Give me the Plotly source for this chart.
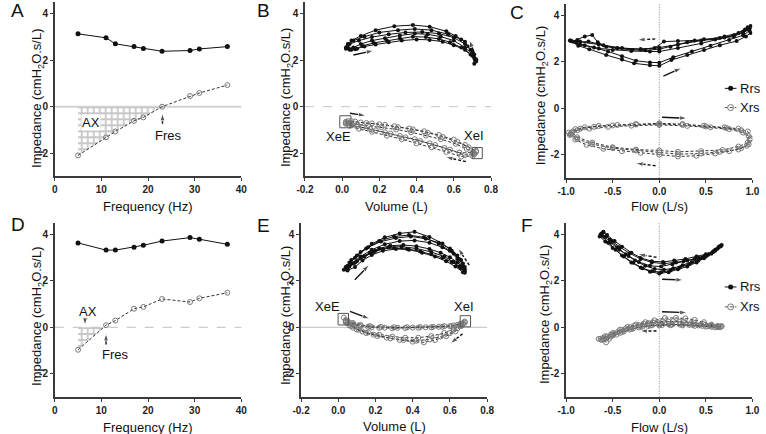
import plotly.graph_objects as go

FONT = "Liberation Sans, Arial, Helvetica, sans-serif"
W, H = 766, 434

# ---------------- Panels A / D : impedance vs frequency ----------------
freq = [5, 11, 13, 17, 19, 23, 29, 31, 37]
rrs_A = [3.14, 2.97, 2.71, 2.59, 2.51, 2.39, 2.42, 2.49, 2.59]
xrs_A = [-2.10, -1.32, -1.07, -0.61, -0.46, 0.00, 0.46, 0.59, 0.93]
fres_A = 23.0
rrs_D = [3.64, 3.33, 3.33, 3.45, 3.54, 3.72, 3.87, 3.80, 3.58]
xrs_D = [-0.97, 0.09, 0.29, 0.80, 0.88, 1.22, 1.09, 1.25, 1.49]
fres_D = 10.5

# ---------------- Panel B : impedance vs volume (L) ----------------
B_rrs = [(0.03, 2.55), (0.05, 2.45), (0.08, 2.50), (0.12, 2.60), (0.18, 2.68), (0.25, 2.78), (0.32, 2.85),
         (0.40, 2.90), (0.47, 2.88), (0.54, 2.80), (0.60, 2.65), (0.66, 2.45), (0.70, 2.20), (0.72, 1.95),
         (0.71, 2.10), (0.69, 2.45), (0.66, 2.80), (0.61, 3.05), (0.56, 3.25), (0.47, 3.45), (0.38, 3.52),
         (0.28, 3.47), (0.18, 3.30), (0.10, 3.05), (0.05, 2.85), (0.03, 2.70), (0.02, 2.55),
         (0.04, 2.45), (0.07, 2.48), (0.11, 2.62), (0.17, 2.75), (0.24, 2.85), (0.31, 2.95), (0.38, 3.02),
         (0.45, 3.00), (0.52, 2.92), (0.58, 2.78), (0.64, 2.55), (0.69, 2.25), (0.72, 2.00),
         (0.71, 2.25), (0.68, 2.60), (0.64, 2.90), (0.57, 3.12), (0.48, 3.30), (0.39, 3.35), (0.30, 3.30),
         (0.20, 3.20), (0.12, 3.02), (0.06, 2.85), (0.03, 2.65),
         (0.03, 2.52), (0.06, 2.55), (0.10, 2.70), (0.16, 2.85), (0.23, 2.95), (0.31, 3.07), (0.39, 3.15),
         (0.46, 3.12), (0.53, 3.02), (0.60, 2.85), (0.66, 2.55), (0.70, 2.25), (0.71, 1.85),
         (0.72, 2.05), (0.70, 2.40), (0.66, 2.70), (0.60, 2.98), (0.52, 3.15), (0.43, 3.22), (0.34, 3.20),
         (0.25, 3.12), (0.16, 3.00), (0.09, 2.85), (0.04, 2.70), (0.02, 2.50)]
B_xrs = [(0.02, -0.65), (0.05, -0.62), (0.10, -0.68), (0.16, -0.72), (0.23, -0.78), (0.30, -0.88),
         (0.38, -0.98), (0.46, -1.12), (0.54, -1.30), (0.62, -1.52), (0.68, -1.75), (0.72, -1.95),
         (0.71, -2.05), (0.66, -2.08), (0.58, -1.85), (0.50, -1.65), (0.42, -1.48), (0.34, -1.32),
         (0.26, -1.16), (0.18, -1.02), (0.11, -0.90), (0.05, -0.80), (0.02, -0.70),
         (0.04, -0.72), (0.08, -0.75), (0.14, -0.80), (0.21, -0.88), (0.29, -0.98), (0.37, -1.10),
         (0.45, -1.24), (0.53, -1.40), (0.61, -1.60), (0.67, -1.82), (0.71, -2.00),
         (0.70, -2.12), (0.64, -2.15), (0.56, -1.95), (0.48, -1.75), (0.40, -1.58), (0.32, -1.40),
         (0.24, -1.25), (0.16, -1.08), (0.09, -0.95), (0.04, -0.82), (0.02, -0.74),
         (0.03, -0.62), (0.07, -0.64), (0.13, -0.70), (0.20, -0.76), (0.28, -0.84), (0.36, -0.94),
         (0.44, -1.06), (0.52, -1.22), (0.60, -1.42), (0.66, -1.65), (0.72, -1.90),
         (0.70, -1.98), (0.63, -1.98), (0.55, -1.78), (0.47, -1.58), (0.39, -1.40), (0.31, -1.26),
         (0.23, -1.10), (0.15, -0.96), (0.08, -0.85), (0.03, -0.72)]
B_box_E = (0.017, -0.65)
B_box_I = (0.726, -2.00)

# ---------------- Panel C : impedance vs flow (L/s) ----------------
C_rrs = [(-0.95, 2.90), (-0.87, 2.70), (-0.75, 2.55), (-0.57, 2.30), (-0.40, 2.10), (-0.27, 1.94),
         (-0.10, 1.86), (0.00, 1.83), (0.13, 2.08), (0.30, 2.30), (0.48, 2.52), (0.65, 2.72), (0.83, 2.90),
         (0.93, 3.10), (0.98, 3.25),
         (0.97, 3.45), (0.90, 3.30), (0.80, 3.09), (0.65, 3.03), (0.48, 2.98), (0.30, 2.85), (0.12, 2.65),
         (0.00, 2.55), (-0.15, 2.50), (-0.29, 2.52), (-0.45, 2.58), (-0.57, 2.66), (-0.66, 2.85),
         (-0.72, 3.16), (-0.80, 3.10), (-0.88, 2.95), (-0.93, 2.88),
         (-0.85, 2.75), (-0.70, 2.62), (-0.55, 2.45), (-0.40, 2.25), (-0.25, 2.05), (-0.10, 1.98),
         (0.00, 1.97), (0.15, 2.20), (0.35, 2.45), (0.55, 2.70), (0.75, 2.95), (0.90, 3.15), (0.97, 3.35),
         (0.98, 3.55), (0.92, 3.40), (0.80, 3.15), (0.60, 2.97), (0.38, 2.92), (0.20, 2.90), (0.05, 2.88),
         (-0.05, 2.60), (-0.20, 2.55), (-0.40, 2.60), (-0.60, 2.72), (-0.76, 2.88), (-0.90, 2.85),
         (-0.96, 2.92),
         (-0.90, 2.85), (-0.80, 2.72), (-0.65, 2.58), (-0.50, 2.52), (-0.30, 2.47), (-0.10, 2.45),
         (0.00, 2.45), (0.20, 2.60), (0.45, 2.80), (0.70, 3.05), (0.90, 3.25), (0.96, 3.40),
         (0.95, 3.50), (0.85, 3.25), (0.70, 3.10), (0.45, 2.92), (0.20, 2.75), (0.00, 2.62),
         (-0.20, 2.55), (-0.45, 2.60), (-0.65, 2.75), (-0.85, 2.88), (-0.95, 2.93)]
C_xrs = [(-0.97, -1.05), (-0.90, -0.90), (-0.80, -0.82), (-0.65, -0.76), (-0.45, -0.72), (-0.25, -0.68),
         (0.00, -0.65), (0.25, -0.68), (0.48, -0.75), (0.70, -0.82), (0.85, -0.88), (0.95, -1.00),
         (0.98, -1.30),
         (0.96, -1.55), (0.88, -1.72), (0.75, -1.85), (0.60, -1.95), (0.40, -2.05), (0.20, -2.08),
         (0.00, -2.00), (-0.20, -1.92), (-0.40, -1.85), (-0.60, -1.75), (-0.78, -1.58), (-0.90, -1.35),
         (-0.96, -1.15),
         (-0.95, -1.10), (-0.88, -0.95), (-0.75, -0.88), (-0.55, -0.80), (-0.30, -0.75), (0.00, -0.72),
         (0.30, -0.76), (0.55, -0.82), (0.75, -0.90), (0.90, -1.05), (0.97, -1.35),
         (0.94, -1.62), (0.85, -1.78), (0.65, -1.88), (0.45, -1.95), (0.20, -1.98), (0.00, -1.90),
         (-0.25, -1.82), (-0.50, -1.72), (-0.72, -1.55), (-0.88, -1.32), (-0.95, -1.12),
         (-0.93, -1.00), (-0.85, -0.88), (-0.70, -0.80), (-0.50, -0.74), (-0.25, -0.70), (0.00, -0.68),
         (0.25, -0.72), (0.50, -0.78), (0.72, -0.85), (0.88, -0.95), (0.96, -1.20),
         (0.95, -1.48), (0.85, -1.65), (0.68, -1.80), (0.45, -1.85), (0.20, -1.88), (0.00, -1.82),
         (-0.25, -1.78), (-0.50, -1.68), (-0.72, -1.48), (-0.88, -1.25), (-0.94, -1.05)]

# ---------------- Panel E : impedance vs volume (L) ----------------
E_rrs = [(0.03, 2.48), (0.06, 2.62), (0.10, 2.85), (0.14, 3.05), (0.19, 3.25), (0.24, 3.38), (0.30, 3.42),
         (0.37, 3.38), (0.44, 3.28), (0.50, 3.15), (0.56, 3.00), (0.61, 2.82), (0.65, 2.62), (0.68, 2.42),
         (0.67, 2.65), (0.65, 2.95), (0.61, 3.30), (0.56, 3.62), (0.49, 3.90), (0.41, 4.12), (0.33, 4.05),
         (0.25, 3.88), (0.18, 3.60), (0.12, 3.25), (0.07, 2.90), (0.04, 2.60),
         (0.04, 2.55), (0.08, 2.75), (0.12, 3.00), (0.17, 3.22), (0.22, 3.40), (0.28, 3.52), (0.35, 3.55),
         (0.42, 3.50), (0.49, 3.38), (0.55, 3.22), (0.60, 3.02), (0.64, 2.80), (0.68, 2.50),
         (0.67, 2.75), (0.64, 3.10), (0.60, 3.40), (0.54, 3.65), (0.47, 3.82), (0.39, 3.92), (0.31, 3.85),
         (0.23, 3.70), (0.16, 3.45), (0.10, 3.10), (0.06, 2.80), (0.04, 2.55),
         (0.05, 2.45), (0.09, 2.60), (0.13, 2.88), (0.18, 3.12), (0.24, 3.30), (0.31, 3.38), (0.38, 3.35),
         (0.45, 3.22), (0.52, 3.05), (0.58, 2.85), (0.63, 2.62), (0.67, 2.38),
         (0.68, 2.60), (0.66, 2.90), (0.62, 3.18), (0.56, 3.45), (0.49, 3.65), (0.41, 3.75), (0.33, 3.72),
         (0.25, 3.58), (0.18, 3.35), (0.12, 3.05), (0.07, 2.75), (0.04, 2.50),
         (0.05, 2.55), (0.09, 2.78), (0.14, 3.05), (0.20, 3.30), (0.27, 3.45), (0.34, 3.48), (0.42, 3.40),
         (0.50, 3.25), (0.57, 3.05), (0.62, 2.82), (0.66, 2.55), (0.68, 2.35),
         (0.67, 2.55), (0.64, 2.95), (0.60, 3.30), (0.54, 3.60), (0.46, 3.88), (0.38, 3.98), (0.30, 3.92),
         (0.22, 3.72), (0.15, 3.40), (0.09, 3.00), (0.05, 2.65)]
E_xrs = [(0.03, 0.42), (0.05, 0.28), (0.08, 0.18), (0.12, 0.10), (0.17, 0.05), (0.23, 0.02), (0.30, 0.00),
         (0.37, 0.00), (0.44, 0.01), (0.51, 0.02), (0.57, 0.05), (0.62, 0.08), (0.66, 0.15), (0.68, 0.25),
         (0.67, 0.15), (0.64, -0.05), (0.60, -0.25), (0.55, -0.40), (0.49, -0.52), (0.42, -0.58),
         (0.35, -0.55), (0.28, -0.48), (0.21, -0.38), (0.15, -0.25), (0.10, -0.10), (0.06, 0.08), (0.04, 0.25),
         (0.04, 0.30), (0.07, 0.18), (0.11, 0.08), (0.16, 0.02), (0.22, -0.02), (0.29, -0.04), (0.36, -0.03),
         (0.43, -0.02), (0.50, 0.00), (0.56, 0.02), (0.61, 0.05), (0.65, 0.12), (0.68, 0.20),
         (0.66, 0.05), (0.63, -0.18), (0.58, -0.38), (0.52, -0.55), (0.46, -0.65), (0.40, -0.62),
         (0.33, -0.55), (0.26, -0.45), (0.19, -0.32), (0.13, -0.18), (0.08, -0.02), (0.05, 0.18),
         (0.05, 0.22), (0.08, 0.12), (0.12, 0.05), (0.18, 0.00), (0.25, -0.02), (0.32, -0.02), (0.40, -0.01),
         (0.47, 0.00), (0.54, 0.02), (0.60, 0.05), (0.64, 0.10), (0.67, 0.18),
         (0.66, 0.10), (0.62, -0.08), (0.57, -0.25), (0.50, -0.38), (0.43, -0.45), (0.36, -0.45),
         (0.29, -0.40), (0.22, -0.32), (0.16, -0.22), (0.11, -0.10), (0.07, 0.05), (0.04, 0.22)]
E_box_E = (0.027, 0.35)
E_box_I = (0.683, 0.26)

# ---------------- Panel F : impedance vs flow (L/s) ----------------
F_rrs = [(-0.62, 3.95), (-0.55, 3.65), (-0.47, 3.35), (-0.38, 3.05), (-0.28, 2.78), (-0.18, 2.55),
         (-0.08, 2.42), (0.02, 2.38), (0.12, 2.45), (0.22, 2.58), (0.32, 2.72), (0.42, 2.88), (0.50, 3.05),
         (0.58, 3.25), (0.64, 3.45), (0.67, 3.55),
         (0.66, 3.50), (0.60, 3.30), (0.52, 3.12), (0.42, 3.00), (0.30, 2.88), (0.18, 2.80), (0.05, 2.75),
         (-0.08, 2.80), (-0.20, 2.95), (-0.32, 3.20), (-0.42, 3.45), (-0.50, 3.70), (-0.57, 3.92),
         (-0.62, 4.05),
         (-0.60, 4.10), (-0.53, 3.78), (-0.45, 3.45), (-0.36, 3.15), (-0.26, 2.88), (-0.15, 2.65),
         (-0.05, 2.52), (0.05, 2.48), (0.15, 2.55), (0.25, 2.68), (0.35, 2.82), (0.45, 2.98), (0.53, 3.15),
         (0.60, 3.35), (0.65, 3.50),
         (0.63, 3.42), (0.56, 3.20), (0.48, 3.05), (0.38, 2.95), (0.26, 2.85), (0.14, 2.72), (0.02, 2.62),
         (-0.10, 2.65), (-0.22, 2.82), (-0.33, 3.08), (-0.43, 3.35), (-0.52, 3.65), (-0.59, 3.90),
         (-0.63, 4.00),
         (-0.64, 3.92), (-0.58, 3.70), (-0.50, 3.42), (-0.40, 3.10), (-0.30, 2.80), (-0.20, 2.58),
         (-0.10, 2.40), (0.00, 2.32), (0.10, 2.38), (0.20, 2.50), (0.30, 2.62), (0.40, 2.80), (0.48, 2.98),
         (0.56, 3.18), (0.62, 3.38), (0.66, 3.52),
         (0.64, 3.48), (0.58, 3.28), (0.50, 3.15), (0.40, 3.05), (0.28, 2.95), (0.16, 2.88), (0.04, 2.82),
         (-0.08, 2.85), (-0.20, 3.00), (-0.30, 3.22), (-0.40, 3.48), (-0.48, 3.72), (-0.56, 3.98),
         (-0.60, 4.12)]
F_xrs = [(-0.65, -0.50), (-0.58, -0.38), (-0.50, -0.25), (-0.42, -0.10), (-0.34, 0.02), (-0.25, 0.12),
         (-0.15, 0.22), (-0.05, 0.30), (0.06, 0.40), (0.18, 0.40), (0.28, 0.38), (0.38, 0.32), (0.48, 0.22),
         (0.56, 0.12), (0.63, 0.05), (0.66, 0.02),
         (0.64, 0.00), (0.56, 0.02), (0.46, 0.06), (0.36, 0.10), (0.25, 0.12), (0.14, 0.12), (0.03, 0.10),
         (-0.08, 0.08), (-0.18, 0.02), (-0.28, -0.05), (-0.38, -0.18), (-0.46, -0.32), (-0.54, -0.50),
         (-0.57, -0.65),
         (-0.60, -0.45), (-0.52, -0.32), (-0.44, -0.18), (-0.36, -0.05), (-0.27, 0.06), (-0.17, 0.15),
         (-0.07, 0.22), (0.04, 0.26), (0.15, 0.27), (0.26, 0.25), (0.37, 0.20), (0.47, 0.14), (0.56, 0.08),
         (0.63, 0.04), (0.67, 0.05),
         (0.62, 0.02), (0.52, 0.05), (0.42, 0.08), (0.32, 0.10), (0.22, 0.12), (0.10, 0.13), (0.00, 0.12),
         (-0.10, 0.08), (-0.20, 0.02), (-0.30, -0.08), (-0.40, -0.20), (-0.50, -0.35), (-0.58, -0.48),
         (-0.62, -0.55),
         (-0.63, -0.50), (-0.56, -0.40), (-0.48, -0.26), (-0.40, -0.12), (-0.31, 0.00), (-0.22, 0.10),
         (-0.12, 0.18), (-0.02, 0.22), (0.10, 0.24), (0.22, 0.23), (0.34, 0.18), (0.45, 0.12), (0.55, 0.07),
         (0.62, 0.04), (0.66, 0.03),
         (0.60, 0.00), (0.50, 0.03), (0.38, 0.06), (0.25, 0.08), (0.12, 0.09), (0.00, 0.08), (-0.12, 0.05),
         (-0.22, 0.00), (-0.32, -0.10), (-0.42, -0.24), (-0.52, -0.40), (-0.60, -0.52)]

# ---------------- tick labels ----------------
y_ticks = [-2, 0, 2, 4]
y_ticktext = ["-2", "0", "2", "4"]
freq_ticks = [0, 10, 20, 30, 40]
vol_ticks = [-0.2, 0.0, 0.2, 0.4, 0.6, 0.8]
vol_ticktext = ["-0.2", "0.0", "0.2", "0.4", "0.6", "0.8"]
flow_ticks = [-1.0, -0.5, 0.0, 0.5, 1.0]
flow_ticktext = ["-1.0", "-0.5", "0.0", "0.5", "1.0"]


def unzip(pairs):
    return [p[0] for p in pairs], [p[1] for p in pairs]


def px(x):
    return x / W


def py(y):
    return 1 - y / H


fig = go.Figure()
annotations = []
shapes = []

RRS_COLOR = "#111111"
XRS_EDGE = "#7a7a7a"
DASH = "3px,2px"


def add_rrs(x, y, s, size=4):
    fig.add_trace(go.Scatter(x=x, y=y, xaxis="x" + s, yaxis="y" + s, mode="lines+markers",
                             line=dict(color=RRS_COLOR, width=1),
                             marker=dict(symbol="circle", size=size, color=RRS_COLOR),
                             showlegend=False, hoverinfo="skip"))


def add_xrs(x, y, s, size=5):
    fig.add_trace(go.Scatter(x=x, y=y, xaxis="x" + s, yaxis="y" + s, mode="lines+markers",
                             line=dict(color="#333333", width=1, dash=DASH),
                             marker=dict(symbol="circle-open", size=size, color=XRS_EDGE,
                                         line=dict(width=1, color=XRS_EDGE)),
                             showlegend=False, hoverinfo="skip"))


def add_arrow(s, x0, y0, x1, y1, dashed=False):
    fig.add_trace(go.Scatter(x=[x0, x1], y=[y0, y1], xaxis="x" + s, yaxis="y" + s, mode="lines+markers",
                             line=dict(color="#111111", width=1.4, dash=DASH if dashed else "solid"),
                             marker=dict(symbol="arrow", angleref="previous", size=[0, 8],
                                         color="#111111"),
                             showlegend=False, hoverinfo="skip"))


def add_hatch(s, xs, ys, fres):
    hx = [f for f in xs if f < fres]
    hy = [v for f, v in zip(xs, ys) if f < fres]
    hx = hx + [fres, hx[0], hx[0]]
    hy = hy + [0, 0, hy[0]]
    fig.add_trace(go.Scatter(x=hx, y=hy, xaxis="x" + s, yaxis="y" + s, mode="lines",
                             fill="toself", fillcolor="rgba(0,0,0,0)",
                             fillpattern=dict(shape="+", fgcolor="#8f8f8f", bgcolor="white",
                                              size=6, solidity=0.5),
                             line=dict(width=0), showlegend=False, hoverinfo="skip"))


def hline0(s, color, width, dash):
    shapes.append(dict(type="line", xref="x" + s + " domain", yref="y" + s, x0=0, x1=1, y0=0, y1=0,
                       line=dict(color=color, width=width, dash=dash), layer="below"))


def vline0(s):
    shapes.append(dict(type="line", xref="x" + s, yref="y" + s + " domain", x0=0, x1=0, y0=0, y1=1,
                       line=dict(color="#8a8a8a", width=1, dash="1px,1.5px"), layer="below"))


def box(s, cx, cy, dx, dy):
    shapes.append(dict(type="rect", xref="x" + s, yref="y" + s, x0=cx - dx, x1=cx + dx,
                       y0=cy - dy, y1=cy + dy, line=dict(color="#555555", width=1)))


def text(s, x, y, t, size=13, bg=None):
    a = dict(xref="x" + s, yref="y" + s, x=x, y=y, text=t, showarrow=False,
             font=dict(family=FONT, size=size, color="#111111"), xanchor="center", yanchor="middle")
    if bg:
        a["bgcolor"] = bg
        a["borderpad"] = 0
    annotations.append(a)


# ---------- Panel A ----------
add_hatch("", freq, xrs_A, fres_A)
hline0("", "#d2d2d2", 2, "solid")
add_rrs(freq, rrs_A, "", size=5)
add_xrs(freq, xrs_A, "", size=5)
text("", 7.8, -0.70, "AX", bg="white")
text("", 24.3, -1.22, "Fres")
add_arrow("", 23.1, -0.74, 23.1, -0.28)

# ---------- Panel D ----------
add_hatch("4", freq, xrs_D, fres_D)
hline0("4", "#bdbdbd", 1, "dash")
add_rrs(freq, rrs_D, "4", size=5)
add_xrs(freq, xrs_D, "4", size=5)
text("4", 7.2, 0.66, "AX")
add_arrow("4", 6.5, 0.40, 6.5, 0.08)
text("4", 13.0, -1.17, "Fres")
add_arrow("4", 11.0, -0.74, 11.0, -0.26)

# ---------- Panel B ----------
hline0("2", "#c4c4c4", 1, "dash")
bx, by = unzip(B_rrs)
add_rrs(bx, by, "2")
bx, by = unzip(B_xrs)
add_xrs(bx, by, "2")
box("2", B_box_E[0], B_box_E[1], 0.03, 0.26)
box("2", B_box_I[0], B_box_I[1], 0.027, 0.24)
text("2", -0.02, -1.29, "XeE")
text("2", 0.71, -1.22, "XeI")
add_arrow("2", 0.06, 2.23, 0.17, 2.42)
add_arrow("2", 0.713, 2.25, 0.683, 2.88, dashed=True)
add_arrow("2", 0.042, -0.28, 0.128, -0.39)
add_arrow("2", 0.665, -2.37, 0.555, -2.17, dashed=True)

# ---------- Panel E ----------
hline0("5", "#bdbdbd", 1, "solid")
ex, ey = unzip(E_rrs)
add_rrs(ex, ey, "5")
ex, ey = unzip(E_xrs)
add_xrs(ex, ey, "5")
box("5", E_box_E[0], E_box_E[1], 0.028, 0.25)
box("5", E_box_I[0], E_box_I[1], 0.028, 0.24)
text("5", -0.056, 0.91, "XeE")
text("5", 0.677, 0.91, "XeI")
add_arrow("5", 0.089, 2.05, 0.167, 2.70)
add_arrow("5", 0.704, 2.68, 0.644, 3.41, dashed=True)
add_arrow("5", 0.063, 0.69, 0.170, 0.36)
add_arrow("5", 0.668, -0.28, 0.602, -0.70, dashed=True)

# ---------- Panel C ----------
vline0("3")
cx, cy = unzip(C_rrs)
add_rrs(cx, cy, "3")
cx, cy = unzip(C_xrs)
add_xrs(cx, cy, "3")
add_arrow("3", 0.044, 1.39, 0.24, 1.74)
add_arrow("3", -0.044, 2.99, -0.235, 2.95, dashed=True)
add_arrow("3", 0.03, -0.39, 0.30, -0.43)
add_arrow("3", -0.04, -2.48, -0.255, -2.37, dashed=True)

# ---------- Panel F ----------
vline0("6")
fx, fy = unzip(F_rrs)
add_rrs(fx, fy, "6")
fx, fy = unzip(F_xrs)
add_xrs(fx, fy, "6")
add_arrow("6", -0.03, 3.02, -0.23, 3.15, dashed=True)
add_arrow("6", 0.03, 2.07, 0.26, 2.04)
add_arrow("6", 0.03, 0.67, 0.30, 0.63)
add_arrow("6", -0.03, -0.16, -0.21, -0.16, dashed=True)

# ---------- manual legends in C and F ----------
LEG_X = [0.703, 0.829]
LEG_MID = 0.766
LEG_TX = 0.845
for s, y_r, y_x in [("3", 0.86, 0.03), ("6", 1.74, 0.88)]:
    fig.add_trace(go.Scatter(x=LEG_X, y=[y_r, y_r], xaxis="x" + s, yaxis="y" + s, mode="lines",
                             line=dict(color=RRS_COLOR, width=1), showlegend=False, hoverinfo="skip"))
    fig.add_trace(go.Scatter(x=[LEG_MID], y=[y_r], xaxis="x" + s, yaxis="y" + s, mode="markers",
                             marker=dict(symbol="circle", size=5, color=RRS_COLOR),
                             showlegend=False, hoverinfo="skip"))
    fig.add_trace(go.Scatter(x=LEG_X, y=[y_x, y_x], xaxis="x" + s, yaxis="y" + s, mode="lines",
                             line=dict(color="#555555", width=1, dash=DASH), showlegend=False,
                             hoverinfo="skip"))
    fig.add_trace(go.Scatter(x=[LEG_MID], y=[y_x], xaxis="x" + s, yaxis="y" + s, mode="markers",
                             marker=dict(symbol="circle-open", size=6, color=XRS_EDGE,
                                         line=dict(width=1, color=XRS_EDGE)),
                             showlegend=False, hoverinfo="skip"))
    for yy, t in [(y_r, "Rrs"), (y_x, "Xrs")]:
        annotations.append(dict(xref="x" + s, yref="y" + s, x=LEG_TX, y=yy, text=t, showarrow=False,
                                xanchor="left", yanchor="middle",
                                font=dict(family=FONT, size=13, color="#111111")))

# ---------- axes ----------
common = dict(showline=True, linecolor="#3a3a3a", linewidth=1.5, ticks="outside", ticklen=3,
              tickwidth=1.2, tickcolor="#3a3a3a", showgrid=False, zeroline=False, fixedrange=True,
              tickfont=dict(family=FONT, size=10, color="#222222", weight="bold"))

top = [py(176.3), py(2.3)]
top_c = [py(177.8), py(4.0)]
bot = [py(396.8), py(223.0)]
xA = [px(46.7), px(237.3)]
xB = [px(302.3), px(492.3)]
xC = [px(569.0), px(759.3)]
xE = [px(298.3), px(488.3)]

panels = [
    ("", xA, top, [0, 40], freq_ticks, [str(v) for v in freq_ticks]),
    ("2", xB, top, [-0.2, 0.8], vol_ticks, vol_ticktext),
    ("3", xC, top_c, [-1, 1], flow_ticks, flow_ticktext),
    ("4", xA, bot, [0, 40], freq_ticks, [str(v) for v in freq_ticks]),
    ("5", xE, bot, [-0.2, 0.8], vol_ticks, vol_ticktext),
    ("6", xC, bot, [-1, 1], flow_ticks, flow_ticktext),
]
layout_axes = {}
for s, xd, yd, xr, xt, xtt in panels:
    layout_axes["xaxis" + s] = dict(domain=xd, anchor="y" + s, range=xr, tickvals=xt, ticktext=xtt,
                                    **common)
    layout_axes["yaxis" + s] = dict(domain=yd, anchor="x" + s, range=[-3, 4.5], tickvals=y_ticks,
                                    ticktext=y_ticktext, **common)

# ---------- axis titles and panel letters (paper coords) ----------
x_titles = [("Frequency (Hz)", 142, 206.7), ("Volume (L)", 396, 206.7), ("Flow (L/s)", 664, 206.7),
            ("Frequency (Hz)", 142, 427), ("Volume (L)", 394, 426.5), ("Flow (L/s)", 664, 427)]
for t, x, y in x_titles:
    annotations.append(dict(xref="paper", yref="paper", x=px(x), y=py(y), text=t, showarrow=False,
                            xanchor="center", yanchor="middle",
                            font=dict(family=FONT, size=13, color="#111111")))
ylab = "Impedance (cmH<sub>2</sub>O.s/L)"
y_titles = [(28.5, 98), (283, 98), (543.5, 96), (28.5, 316), (283, 316), (547.5, 315)]
for x, y in y_titles:
    annotations.append(dict(xref="paper", yref="paper", x=px(x), y=py(y), text=ylab, showarrow=False,
                            textangle=-90, xanchor="center", yanchor="middle",
                            font=dict(family=FONT, size=13, color="#111111")))
letters = [("A", 0, 11), ("B", 251, 11), ("C", 510, 12.5), ("D", 0, 224.5), ("E", 251, 225.5),
           ("F", 521, 225.5)]
for t, x, y in letters:
    annotations.append(dict(xref="paper", yref="paper", x=px(x), y=py(y), text=t, showarrow=False,
                            xanchor="left", yanchor="middle",
                            font=dict(family=FONT, size=19, color="#111111")))

fig.update_layout(width=W, height=H, margin=dict(l=0, r=0, t=0, b=0), paper_bgcolor="white",
                  plot_bgcolor="white", showlegend=False, annotations=annotations, shapes=shapes,
                  **layout_axes)

fig.write_html("out.html", config={"displayModeBar": False},
               post_script="document.body.style.margin='0';document.body.style.padding='0';"
                           "document.documentElement.style.overflow='hidden';")
